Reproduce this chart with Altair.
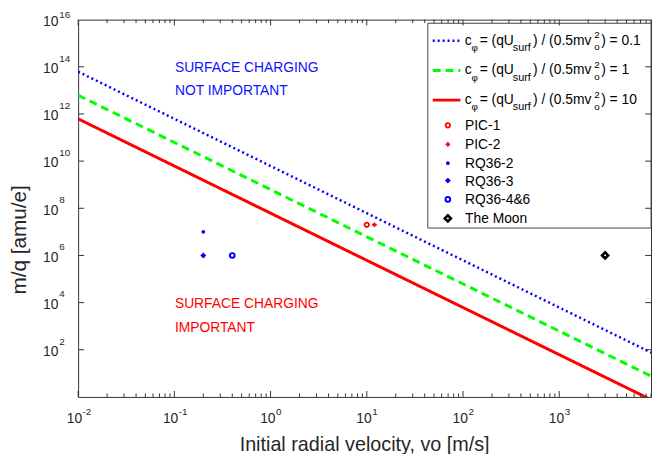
import altair as alt
import pandas as pd

# ---------------- data ----------------
v_ends = [0.01, 10000]
mq_c01 = [6.2e13, 62]      # c_phi = 0.1
mq_c1 = [6.2e12, 6.2]      # c_phi = 1
mq_c10 = [6.2e11, 0.62]    # c_phi = 10
series_vals = ["0.1", "1", "10"]

pt_names = ["PIC-1", "PIC-2", "RQ36-2", "RQ36-3", "RQ36-4&6", "The Moon"]
pt_v = [10, 12, 0.2, 0.2, 0.4, 3000]
pt_mq = [2e7, 2e7, 1e7, 1e6, 1e6, 1e6]

x_exps = [-2, -1, 0, 1, 2, 3]
y_exps = [2, 4, 6, 8, 10, 12, 14, 16]

# ---------------- styles ----------------
FONT = "Liberation Sans"
X0, Y0 = 79, 17          # absolute position of plot origin
W, H = 580, 382
xs = alt.Scale(type="log", domain=[0.01, 9000])
ys = alt.Scale(type="log", domain=[1, 1e16])

line_styles = [
    dict(color="#0000FF", dash=[2, 3], width=2.5),
    dict(color="#00FF00", dash=[8, 5], width=3),
    dict(color="#FF0000", dash=[1, 0], width=3),
]
pt_styles = {
    "PIC-1": dict(shape="circle", filled=False, size=20, color="#FF0000", sw=1.8),
    "PIC-2": dict(shape="cross", filled=True, size=22, color="#FF0000", sw=0.5),
    "RQ36-2": dict(shape="circle", filled=True, size=14, color="#0000FF", sw=0.5),
    "RQ36-3": dict(shape="diamond", filled=True, size=36, color="#0000FF", sw=0.5),
    "RQ36-4&6": dict(shape="circle", filled=False, size=22, color="#0000FF", sw=2),
    "The Moon": dict(shape="diamond", filled=False, size=38, color="#000000", sw=2.6),
}

def ax(v):
    return alt.value(v - X0)

def ay(v):
    return alt.value(v - Y0)

def point_kw(st):
    kw = dict(shape=st["shape"], filled=st["filled"], size=st["size"], strokeWidth=st["sw"], opacity=1)
    if st["filled"]:
        kw["color"] = st["color"]
    else:
        kw["stroke"] = st["color"]
        kw["fillOpacity"] = 0
    return kw

layers = []

# ---------------- curves ----------------
for vals, st in zip([mq_c01, mq_c1, mq_c10], line_styles):
    df = pd.DataFrame({"v": v_ends, "mq": vals})
    layers.append(
        alt.Chart(df).mark_line(clip=True, color=st["color"], strokeWidth=st["width"],
                                strokeDash=st["dash"]).encode(
            x=alt.X("v:Q", scale=xs, axis=None),
            y=alt.Y("mq:Q", scale=ys, axis=None),
        )
    )

# ---------------- points ----------------
for n, v, m in zip(pt_names, pt_v, pt_mq):
    df = pd.DataFrame({"v": [v], "mq": [m]})
    layers.append(
        alt.Chart(df).mark_point(**point_kw(pt_styles[n])).encode(
            x=alt.X("v:Q", scale=xs, axis=None),
            y=alt.Y("mq:Q", scale=ys, axis=None),
        )
    )

# ---------------- annotations ----------------
one = pd.DataFrame({"a": [0]})
for txt, xa, ya, col in [
    ("SURFACE CHARGING", 177, 70, "#1010FF"),
    ("NOT IMPORTANT", 177, 93.5, "#1010FF"),
    ("SURFACE CHARGING", 177, 309.3, "#FF0000"),
    ("IMPORTANT", 177, 333.3, "#FF0000"),
]:
    layers.append(
        alt.Chart(one).mark_text(
            align="left", baseline="alphabetic", font=FONT, fontSize=14, color=col
        ).encode(x=ax(xa), y=ay(ya), text=alt.value(txt))
    )

# ---------------- legend ----------------
layers.append(
    alt.Chart(one).mark_rect(fill="white", stroke="#444444", strokeWidth=1).encode(
        x=ax(433), x2=ax(659), y=ay(20.7), y2=ay(228)
    )
)
line_rows = [38.5, 68.5, 98.5]
for yrow, st, val in zip(line_rows, line_styles, series_vals):
    layers.append(
        alt.Chart(one).mark_rule(color=st["color"], strokeWidth=st["width"], strokeDash=st["dash"]).encode(
            x=ax(438), x2=ax(466), y=ay(yrow)
        )
    )
    segs = [
        ("c", 470.5, 4, 14),
        ("\u03c6", 477.3, 10.5, 10),
        ("= (qU", 485.5, 4, 14),
        ("surf", 519.0, 10.5, 11),
        (") / (0.5mv", 539.5, 4, 14),
        ("2", 601.5, -2.5, 10),
        ("o", 601.5, 9.5, 10),
        (") = " + val, 608.5, 4, 14),
    ]
    for t, xa, dy, fs in segs:
        layers.append(
            alt.Chart(one).mark_text(
                align="left", baseline="alphabetic", font=FONT, fontSize=fs, color="#000000"
            ).encode(x=ax(xa), y=ay(yrow + dy), text=alt.value(t))
        )

pt_rows = [124, 143.3, 162.3, 180, 199, 218.3]
for n, yrow in zip(pt_names, pt_rows):
    layers.append(alt.Chart(one).mark_point(**point_kw(pt_styles[n])).encode(x=ax(453.3), y=ay(yrow)))
    layers.append(
        alt.Chart(one).mark_text(align="left", baseline="alphabetic", font=FONT, fontSize=14,
                                 color="#000000").encode(x=ax(470.7), y=ay(yrow + 5), text=alt.value(n))
    )

# ---------------- ticks ----------------
TICK = "#333333"
xmaj = pd.DataFrame({"v": [10.0 ** e for e in x_exps]})
xmin_vals = [k * 10.0 ** e for e in x_exps for k in range(2, 10) if k * 10.0 ** e <= 9000]
xmin = pd.DataFrame({"v": xmin_vals})
for df, ln in [(xmaj, 6), (xmin, 3.5)]:
    for ya, yb in [(H, H - ln), (0, ln)]:
        layers.append(
            alt.Chart(df).mark_rule(color=TICK, strokeWidth=1).encode(
                x=alt.X("v:Q", scale=xs, axis=None), y=alt.value(ya), y2=alt.value(yb)
            )
        )
ymaj = pd.DataFrame({"mq": [10.0 ** e for e in y_exps if e < 16]})
for xa, xb in [(0, 6), (W, W - 6)]:
    layers.append(
        alt.Chart(ymaj).mark_rule(color=TICK, strokeWidth=1).encode(
            y=alt.Y("mq:Q", scale=ys, axis=None), x=alt.value(xa), x2=alt.value(xb)
        )
    )

# ---------------- tick labels ----------------
LBL = "#262626"
xl = pd.DataFrame({"v": [10.0 ** e for e in x_exps], "e": [str(e) for e in x_exps],
                   "neg": [e < 0 for e in x_exps]})
for neg, off in [(True, 4), (False, 5)]:
    sub = xl[xl["neg"] == neg]
    layers.append(
        alt.Chart(sub).mark_text(align="right", baseline="alphabetic", font=FONT, fontSize=14, color=LBL,
                                 dx=off).encode(
            x=alt.X("v:Q", scale=xs, axis=None), y=ay(425), text=alt.value("10"))
    )
    layers.append(
        alt.Chart(sub).mark_text(align="left", baseline="alphabetic", font=FONT, fontSize=10, color=LBL,
                                 dx=off + 0.5).encode(
            x=alt.X("v:Q", scale=xs, axis=None), y=ay(417), text="e:N")
    )
yl = pd.DataFrame({"mq": [10.0 ** e for e in y_exps], "e": [str(e) for e in y_exps],
                   "top": [e == 16 for e in y_exps]})
layers.append(
    alt.Chart(yl).mark_text(align="right", baseline="alphabetic", font=FONT, fontSize=14, color=LBL,
                            dy=6.3).encode(
        y=alt.Y("mq:Q", scale=ys, axis=None), x=ax(59), text=alt.value("10"))
)
for top, dy in [(False, -5.3), (True, -1.5)]:
    sub = yl[yl["top"] == top]
    layers.append(
        alt.Chart(sub).mark_text(align="left", baseline="alphabetic", font=FONT, fontSize=10, color=LBL,
                                 dy=dy).encode(
            y=alt.Y("mq:Q", scale=ys, axis=None), x=ax(60), text="e:N")
    )

# ---------------- axis titles ----------------
layers.append(
    alt.Chart(one).mark_text(align="center", baseline="alphabetic", font=FONT, fontSize=20, color=LBL).encode(
        x=alt.value(W / 2), y=ay(453.5), text=alt.value("Initial radial velocity, vo [m/s]"))
)
layers.append(
    alt.Chart(one).mark_text(align="center", baseline="middle", font=FONT, fontSize=21, color=LBL,
                             angle=270).encode(
        x=ax(20.5), y=ay(240), text=alt.value("m/q [amu/e]"))
)

chart = alt.layer(*layers).properties(
    width=W, height=H,
    autosize=alt.AutoSizeParams(type="none"),
    padding={"left": X0 - 8, "top": Y0 - 8, "right": 3, "bottom": 55},
    background="white",
).configure_view(stroke="#333333", strokeWidth=1)

chart.save("out.html", embed_options={"renderer": "svg", "actions": False})
